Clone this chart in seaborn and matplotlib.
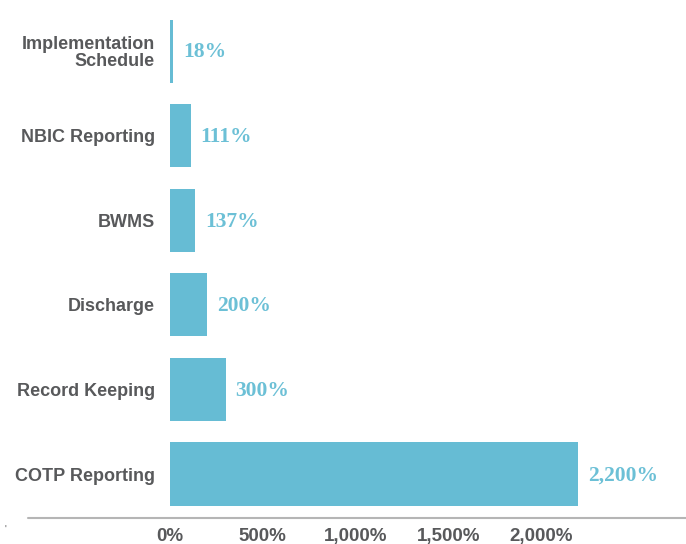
import matplotlib
matplotlib.use("Agg")
import matplotlib.pyplot as plt
import seaborn as sns
import pandas as pd
from matplotlib.lines import Line2D

categories = ["Implementation\nSchedule", "NBIC Reporting", "BWMS", "Discharge",
              "Record Keeping", "COTP Reporting"]
values = [18, 111, 137, 200, 300, 2200]
value_labels = ["18%", "111%", "137%", "200%", "300%", "2,200%"]
xticks = [0, 500, 1000, 1500, 2000]
xtick_labels = ["0%", "500%", "1,000%", "1,500%", "2,000%"]

BAR = "#66bcd4"
TXT = "#58595b"

sns.set_theme(style="white")
plt.rcParams["font.family"] = ["Liberation Sans", "DejaVu Sans"]

W, H = 686, 544
fig = plt.figure(figsize=(W / 100, H / 100), dpi=100)
ax = fig.add_axes([170 / W, 26 / H, 516 / W, 518 / H])

df = pd.DataFrame({"category": categories, "value": values})
sns.barplot(data=df, x="value", y="category", color=BAR, saturation=1,
            width=0.745, orient="h", ax=ax, linewidth=0)

ax.set_xlim(0, 2782)
ax.set_ylim(5.52, -0.603)
for s in ax.spines.values():
    s.set_visible(False)
ax.set_xlabel("")
ax.set_ylabel("")
ax.set_xticks(xticks)
ax.set_xticklabels(xtick_labels, fontsize=13.5, fontweight="bold", color=TXT)
ax.tick_params(axis="x", length=0, pad=7)
ax.tick_params(axis="y", length=0, pad=11)
for lab in ax.get_yticklabels():
    lab.set_fontsize(13)
    lab.set_fontweight("bold")
    lab.set_color(TXT)
    lab.set_linespacing(1.0)

for i, (v, lbl) in enumerate(zip(values, value_labels)):
    ax.annotate(lbl, xy=(v, i), xytext=(7, -1), textcoords="offset points",
                ha="left", va="center", fontsize=15.5, fontweight="bold",
                color="#6cc0d6", family=["Liberation Serif", "DejaVu Serif"])

fig.add_artist(Line2D([28 / W, 1.0], [26 / H, 26 / H], color="#b5b5b5", lw=1.5,
                      transform=fig.transFigure))
fig.text(5 / W, 1 - 530 / H, "'", fontsize=7, color=TXT, ha="center", va="center")

fig.savefig("out.png", dpi=100)
